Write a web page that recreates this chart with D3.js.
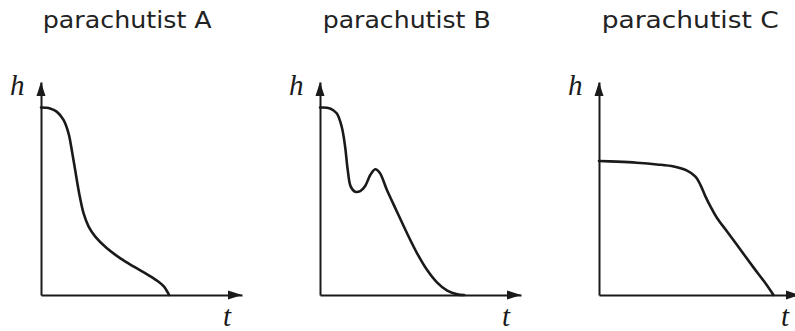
<!DOCTYPE html>
<html><head><meta charset="utf-8">
<script src="https://cdn.jsdelivr.net/npm/d3@7"></script>
<style>html,body{margin:0;padding:0;background:#fff;overflow:hidden}</style>
</head><body>
<svg id="chart" width="795" height="331"></svg>
<script>
// Panel titles
const titles = ["parachutist A", "parachutist B", "parachutist C"];
// Curves: [t, h] pairs (axis units 0..10)
const seriesA = [[0,8.8],[0.45,8.76],[0.78,8.61],[1.12,8.22],[1.37,7.59],[1.53,6.81],[1.70,5.87],[1.90,4.77],[2.12,3.83],[2.37,3.21],[2.70,2.74],[3.28,2.19],[3.95,1.72],[4.62,1.33],[5.28,0.97],[5.78,0.67],[6.12,0.39],[6.37,0]];
const seriesB = [[0,8.8],[0.5,8.76],[0.83,8.53],[1.08,7.90],[1.25,6.96],[1.38,5.87],[1.53,5.09],[1.75,4.85],[2.0,4.88],[2.25,5.12],[2.5,5.63],[2.75,5.90],[2.97,5.74],[3.33,4.93],[3.83,3.91],[4.33,2.90],[4.83,1.96],[5.33,1.17],[5.83,0.58],[6.33,0.20],[6.83,0.03],[7.17,0]];
const seriesC = [[0,6.29],[0.88,6.26],[1.88,6.21],[2.88,6.13],[3.72,6.03],[4.38,5.84],[4.8,5.56],[5.05,5.16],[5.3,4.62],[5.55,4.15],[5.88,3.60],[6.38,2.97],[7.05,2.11],[7.72,1.25],[8.22,0.63],[8.68,0]];
const axisLabelY = "h";
const axisLabelX = "t";

const series = [seriesA, seriesB, seriesC];
const originsX = [41, 320, 599];
const titleX = [42.7, 322.7, 601.7];
const titleW = [169, 168, 177];

const svg = d3.select("#chart");
const yScale = d3.scaleLinear().domain([0, 10]).range([295, 82]);

series.forEach((data, i) => {
  const x0 = originsX[i];
  const xScale = d3.scaleLinear().domain([0, 10]).range([x0, x0 + 201]);
  const g = svg.append("g");

  // title
  g.append("text")
    .attr("x", titleX[i]).attr("y", 28)
    .attr("font-family", "DejaVu Sans, sans-serif")
    .attr("font-size", 23)
    .attr("fill", "#222")
    .attr("textLength", titleW[i])
    .attr("lengthAdjust", "spacingAndGlyphs")
    .text(titles[i]);

  // axes (no ticks)
  const xAxis = d3.axisBottom(xScale).tickValues([]).tickSizeOuter(0);
  const yAxis = d3.axisLeft(yScale).tickValues([]).tickSizeOuter(0);
  const gx = g.append("g").attr("transform", `translate(0,${yScale(0)})`).call(xAxis);
  const gy = g.append("g").attr("transform", `translate(${xScale(0)},0)`).call(yAxis);
  [gx, gy].forEach(a => a.select(".domain").attr("stroke", "#1a1a1a").attr("stroke-width", 2));

  // arrowheads
  const tipX = xScale(10), by = yScale(0);
  g.append("path")
    .attr("d", `M${tipX},${by} L${tipX - 14},${by - 4.5} L${tipX - 14},${by + 4.5} Z`)
    .attr("fill", "#1a1a1a");
  const tipY = yScale(10), ax = xScale(0);
  g.append("path")
    .attr("d", `M${ax},${tipY} L${ax - 4.5},${tipY + 14} L${ax + 4.5},${tipY + 14} Z`)
    .attr("fill", "#1a1a1a");

  // axis labels
  g.append("text")
    .attr("x", ax - 31).attr("y", 95)
    .attr("font-family", "Liberation Serif, serif")
    .attr("font-style", "italic")
    .attr("font-size", 29)
    .attr("fill", "#1a1a1a")
    .text(axisLabelY);
  g.append("text")
    .attr("x", tipX - 19).attr("y", 326)
    .attr("font-family", "Liberation Serif, serif")
    .attr("font-style", "italic")
    .attr("font-size", 29)
    .attr("fill", "#1a1a1a")
    .text(axisLabelX);

  // curve
  const line = d3.line()
    .x(d => xScale(d[0]))
    .y(d => yScale(d[1]))
    .curve(d3.curveCatmullRom.alpha(0.5));
  g.append("path")
    .datum(data)
    .attr("d", line)
    .attr("fill", "none")
    .attr("stroke", "#1a1a1a")
    .attr("stroke-width", 2.6)
    .attr("stroke-linecap", "round");
});
</script>
</body></html>
